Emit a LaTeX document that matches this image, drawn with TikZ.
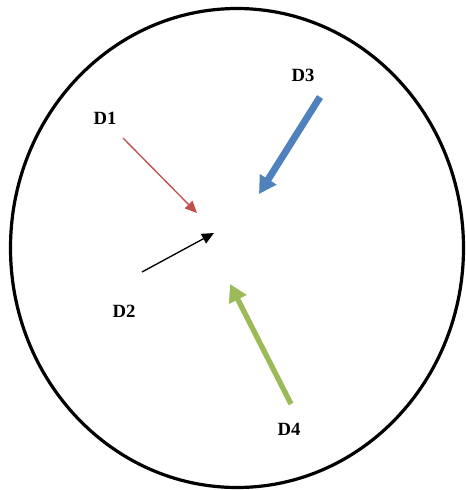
\documentclass[tikz,border=0pt]{standalone}
\usepackage{fontspec}
\setmainfont{Liberation Serif}
\usetikzlibrary{arrows.meta}
\definecolor{dred}{RGB}{192,80,77}
\definecolor{dblue}{RGB}{79,129,189}
\definecolor{dgreen}{RGB}{155,187,89}
\begin{document}
\begin{tikzpicture}[x=0.75pt,y=-0.75pt,
  lbl/.style={font=\bfseries\fontsize{14}{16}\selectfont, inner sep=0pt},
  thin arrow/.style={-{Triangle[length=9pt,width=8pt]}},
  fat arrow/.style={line width=#1, -{Triangle[length=13pt,width=14pt]}}]
\useasboundingbox (0,0) rectangle (466,490);
\fill[white] (0,0) rectangle (466,490);
\draw[line width=2.4pt] (237,248) ellipse [x radius=226.5, y radius=239.5];
\node[lbl] (d1) at (105,118) {D1};
\node[lbl] (d2) at (124,311) {D2};
\node[lbl] (d3) at (303,75) {D3};
\node[lbl] (d4) at (289,429) {D4};
\coordinate (a1) at (123,138);
\coordinate (b1) at (197,213);
\coordinate (a2) at (142,272);
\coordinate (b2) at (214,233);
\coordinate (a3) at (320,97);
\coordinate (b3) at (259,194);
\coordinate (a4) at (291,404);
\coordinate (b4) at (230,284);
\draw[thin arrow, draw=dred, fill=dred, line width=1pt] (a1) -- (b1);
\draw[thin arrow, draw=black, fill=black, line width=1pt] (a2) -- (b2);
\draw[fat arrow=5.2pt, draw=dblue, fill=dblue] (a3) -- (b3);
\draw[fat arrow=4pt, draw=dgreen, fill=dgreen] (a4) -- (b4);
\end{tikzpicture}
\end{document}
